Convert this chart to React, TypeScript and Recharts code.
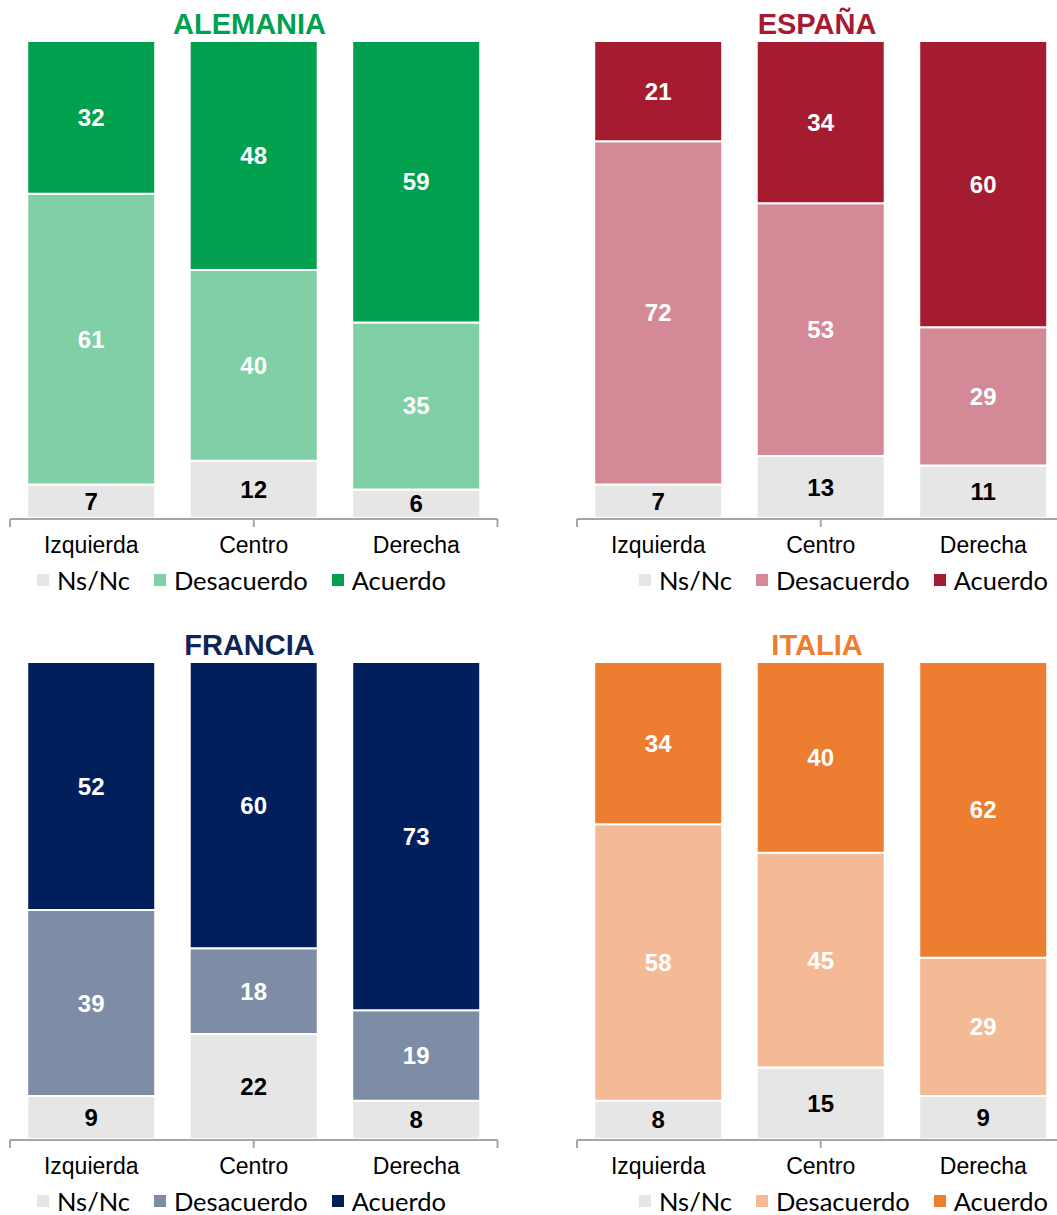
import React from 'react';
import { BarChart, Bar, XAxis, YAxis, LabelList } from 'recharts';

const categories = ['Izquierda', 'Centro', 'Derecha'];
const seriesNames = ['Ns/Nc', 'Desacuerdo', 'Acuerdo'];

const alemaniaNsNc = [7, 12, 6];
const alemaniaDesacuerdo = [61, 40, 35];
const alemaniaAcuerdo = [32, 48, 59];

const espanaNsNc = [7, 13, 11];
const espanaDesacuerdo = [72, 53, 29];
const espanaAcuerdo = [21, 34, 60];

const franciaNsNc = [9, 22, 8];
const franciaDesacuerdo = [39, 18, 19];
const franciaAcuerdo = [52, 60, 73];

const italiaNsNc = [8, 15, 9];
const italiaDesacuerdo = [58, 45, 29];
const italiaAcuerdo = [34, 40, 62];

const NS_COLOR = '#E6E6E6';
const AXIS_COLOR = '#A6A6A6';

type PanelProps = {
  title: string;
  titleColor: string;
  ns: number[];
  des: number[];
  ac: number[];
  desColor: string;
  acColor: string;
  left: number;
  top: number;
  plotLeft: number;
  titleCenter: number;
  legendLeft: number;
};

const CHART_W = 540;
const CHART_H = 600;
const PLOT_W = 487.5;

const EmptyTick = () => <g />;

function Panel(p: PanelProps) {
  const data = categories.map((c, i) => ({ cat: c, ns: p.ns[i], des: p.des[i], ac: p.ac[i] }));
  const labelStyle = { fontFamily: '"Liberation Sans", Arial, sans-serif', fontWeight: 700, fontSize: 24 };
  const legendItems = [
    { name: seriesNames[0], color: NS_COLOR },
    { name: seriesNames[1], color: p.desColor },
    { name: seriesNames[2], color: p.acColor },
  ];
  return (
    <div style={{ position: 'absolute', left: p.left, top: p.top, width: CHART_W, height: CHART_H }}>
      <div
        style={{
          position: 'absolute',
          left: p.titleCenter,
          top: 9.5,
          transform: 'translateX(-50%)',
          fontFamily: '"Liberation Sans", Arial, sans-serif',
          fontWeight: 700,
          fontSize: 29,
          lineHeight: '29px',
          color: p.titleColor,
          whiteSpace: 'nowrap',
        }}
      >
        {p.title}
      </div>
      <BarChart
        width={CHART_W}
        height={CHART_H}
        data={data}
        margin={{ top: 41, left: p.plotLeft, right: CHART_W - p.plotLeft - PLOT_W, bottom: 80 }}
        barCategoryGap="10.6%"
      >
        <XAxis
          xAxisId="grid"
          type="number"
          domain={[0, 3]}
          ticks={[0, 1, 2, 3]}
          allowDataOverflow
          height={1}
          tick={EmptyTick}
          tickSize={8}
          axisLine={{ stroke: AXIS_COLOR, strokeWidth: 2 }}
          tickLine={{ stroke: AXIS_COLOR, strokeWidth: 2 }}
        />
        <XAxis
          xAxisId="cat"
          dataKey="cat"
          height={1}
          interval={0}
          axisLine={false}
          tickLine={false}
          tickSize={0}
          tickMargin={19}
          tick={{ fill: '#000', fontSize: 23, fontFamily: '"Liberation Sans", Arial, sans-serif' }}
        />
        <YAxis hide domain={[0, 100]} />
        <Bar xAxisId="cat" dataKey="ns" stackId="s" fill={NS_COLOR} stroke="#fff" strokeWidth={2} isAnimationActive={false}>
          <LabelList dataKey="ns" position="center" fill="#000" style={labelStyle} />
        </Bar>
        <Bar xAxisId="cat" dataKey="des" stackId="s" fill={p.desColor} stroke="#fff" strokeWidth={2} isAnimationActive={false}>
          <LabelList dataKey="des" position="center" fill="#fff" style={labelStyle} />
        </Bar>
        <Bar xAxisId="cat" dataKey="ac" stackId="s" fill={p.acColor} stroke="#fff" strokeWidth={2} isAnimationActive={false}>
          <LabelList dataKey="ac" position="center" fill="#fff" style={labelStyle} />
        </Bar>
      </BarChart>
      <div
        style={{
          position: 'absolute',
          left: p.legendLeft,
          top: 569,
          height: 22,
          display: 'flex',
          alignItems: 'center',
          fontFamily: 'Lato, "Open Sans", sans-serif',
          fontSize: 25.5,
          lineHeight: '22px',
          color: '#000',
          whiteSpace: 'nowrap',
        }}
      >
        {legendItems.map((it, i) => (
          <div key={it.name} style={{ display: 'flex', alignItems: 'center', marginRight: i < 2 ? 24 : 0 }}>
            <span style={{ display: 'inline-block', width: 12, height: 12, background: it.color, marginRight: 8 }} />
            <span>{it.name}</span>
          </div>
        ))}
      </div>
    </div>
  );
}

export default function App() {
  return (
    <div
      style={{
        position: 'absolute',
        left: 0,
        top: 0,
        width: 1057,
        height: 1215,
        overflow: 'hidden',
        background: '#fff',
      }}
    >
      <Panel
        title="ALEMANIA"
        titleColor="#00A04F"
        ns={alemaniaNsNc}
        des={alemaniaDesacuerdo}
        ac={alemaniaAcuerdo}
        desColor="#80CFA6"
        acColor="#00A04F"
        left={0}
        top={0}
        plotLeft={10}
        titleCenter={249.5}
        legendLeft={37}
      />
      <Panel
        title="ESPAÑA"
        titleColor="#A51B30"
        ns={espanaNsNc}
        des={espanaDesacuerdo}
        ac={espanaAcuerdo}
        desColor="#D38A96"
        acColor="#A51B30"
        left={560}
        top={0}
        plotLeft={17}
        titleCenter={257}
        legendLeft={79}
      />
      <Panel
        title="FRANCIA"
        titleColor="#0F2557"
        ns={franciaNsNc}
        des={franciaDesacuerdo}
        ac={franciaAcuerdo}
        desColor="#7F8CA5"
        acColor="#001F5B"
        left={0}
        top={621}
        plotLeft={10}
        titleCenter={249.5}
        legendLeft={37}
      />
      <Panel
        title="ITALIA"
        titleColor="#ED7D31"
        ns={italiaNsNc}
        des={italiaDesacuerdo}
        ac={italiaAcuerdo}
        desColor="#F4BA96"
        acColor="#ED7D31"
        left={560}
        top={621}
        plotLeft={17}
        titleCenter={257}
        legendLeft={79}
      />
    </div>
  );
}
